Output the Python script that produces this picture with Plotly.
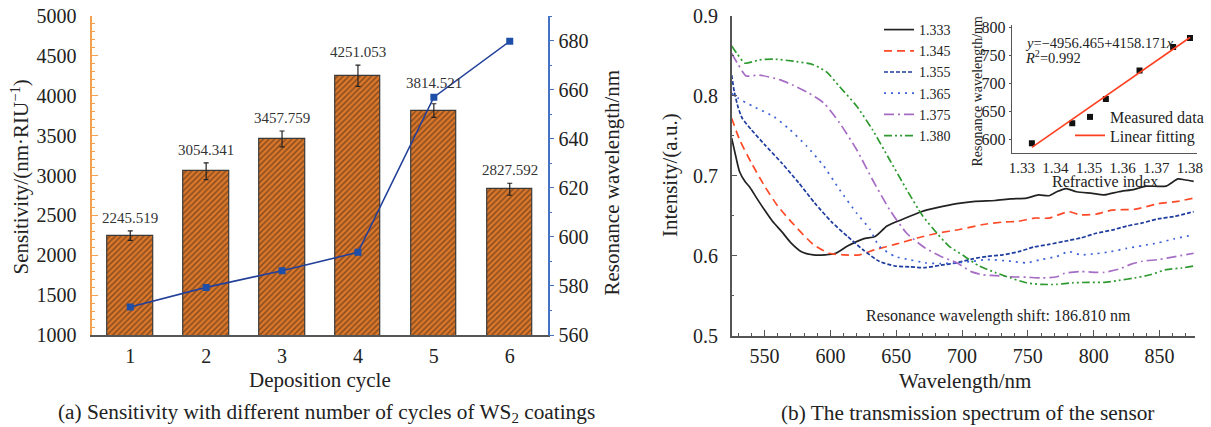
import plotly.graph_objects as go

W, H = 1211, 427
FONT = "Liberation Serif"

# ---------------- data: panel (a) ----------------
cycles = [1, 2, 3, 4, 5, 6]
sensitivity = [2245.519, 3054.341, 3457.759, 4251.053, 3814.521, 2827.592]
sens_err = [60, 105, 100, 133, 85, 75]
res_wl = [571.4, 579.4, 586.2, 593.7, 656.9, 679.7]

# ---------------- data: panel (b) spectra ----------------
ri_labels = ["1.333", "1.345", "1.355", "1.365", "1.375", "1.380"]

wl_1333 = [525, 528, 531, 535, 539, 544, 550, 556, 563, 570, 578, 587, 596, 604, 613, 625, 634,
           643, 654, 669, 681, 696, 710, 725, 737, 749, 758, 766, 772, 779, 787, 799, 808, 819,
           831, 840, 855, 864, 869, 876]
I_1333 = [0.747, 0.725, 0.705, 0.693, 0.685, 0.672, 0.657, 0.643, 0.630, 0.616, 0.605, 0.601,
          0.601, 0.603, 0.612, 0.621, 0.624, 0.637, 0.645, 0.655, 0.660, 0.665, 0.668, 0.669,
          0.671, 0.672, 0.676, 0.675, 0.680, 0.684, 0.680, 0.678, 0.676, 0.680, 0.683, 0.687,
          0.687, 0.696, 0.695, 0.693]

wl_1345 = [525, 531, 540, 550, 560, 571, 587, 599, 610, 622, 634, 649, 666, 681, 699, 716, 731,
           743, 755, 766, 781, 790, 802, 814, 831, 849, 864, 876]
I_1345 = [0.772, 0.745, 0.716, 0.687, 0.662, 0.641, 0.614, 0.603, 0.601, 0.601, 0.6075, 0.614,
          0.622, 0.628, 0.633, 0.639, 0.642, 0.643, 0.647, 0.647, 0.655, 0.651, 0.652, 0.657,
          0.658, 0.665, 0.668, 0.672]

wl_1355 = [525, 527, 530, 533, 540, 550, 563, 576, 588, 601, 613, 625, 637, 649, 660, 672, 684,
           696, 708, 719, 731, 743, 755, 766, 778, 790, 802, 814, 825, 837, 849, 861, 876]
I_1355 = [0.826, 0.805, 0.785, 0.772, 0.7575, 0.739, 0.716, 0.691, 0.666, 0.642, 0.624, 0.607,
          0.593, 0.587, 0.586, 0.585, 0.588, 0.591, 0.596, 0.599, 0.601, 0.605, 0.611, 0.614,
          0.618, 0.622, 0.628, 0.632, 0.637, 0.641, 0.646, 0.649, 0.655]

wl_1365 = [525, 530, 541, 557, 569, 582, 595, 607, 620, 630, 637, 649, 660, 672, 684, 696, 708,
           719, 737, 749, 760, 772, 781, 790, 802, 813, 825, 837, 849, 861, 876]
I_1365 = [0.803, 0.797, 0.787, 0.774, 0.758, 0.737, 0.712, 0.6825, 0.653, 0.633, 0.612, 0.599,
          0.595, 0.591, 0.590, 0.591, 0.593, 0.595, 0.593, 0.591, 0.595, 0.599, 0.605, 0.601,
          0.6025, 0.605, 0.609, 0.6125, 0.616, 0.621, 0.626]

wl_1375 = [525, 530, 536, 546, 562, 572, 582, 595, 607, 620, 632, 645, 658, 672, 684, 696, 707,
           716, 725, 737, 749, 760, 772, 778, 790, 802, 808, 819, 828, 837, 849, 861, 876]
I_1375 = [0.853, 0.839, 0.825, 0.826, 0.820, 0.813, 0.805, 0.791, 0.766, 0.7325, 0.695, 0.6575,
          0.628, 0.6095, 0.599, 0.591, 0.580, 0.576, 0.575, 0.5735, 0.573, 0.572, 0.5735, 0.578,
          0.580, 0.579, 0.579, 0.583, 0.589, 0.593, 0.595, 0.5985, 0.603]

wl_1380 = [525, 529, 535, 546, 557, 574, 587, 597, 607, 620, 632, 645, 658, 670, 681, 690, 702,
           713, 725, 737, 749, 760, 772, 784, 796, 808, 819, 831, 843, 855, 867, 876]
I_1380 = [0.8625, 0.853, 0.841, 0.845, 0.846, 0.843, 0.839, 0.830, 0.8115, 0.787, 0.7575, 0.720,
          0.6825, 0.650, 0.628, 0.612, 0.599, 0.587, 0.579, 0.572, 0.566, 0.564, 0.564, 0.566,
          0.5665, 0.5665, 0.569, 0.572, 0.576, 0.5825, 0.5845, 0.587]

# ---------------- data: inset ----------------
inset_ri = [1.333, 1.345, 1.355, 1.365, 1.375, 1.380]
inset_wl = [594.0, 629.5, 672.5, 723.0, 765.0, 780.8]
fit_intercept = -4956.465
fit_slope = 4158.171

# ---------------- styles ----------------
spec_colors = ["#222222", "#FF4A28", "#1E3C9E", "#3D62D6", "#A66DC4", "#2E9A30"]
spec_dash = ["solid", "8px,5px", "4px,2px", "2px,5px", "10px,4px,2px,4px", "8px,3px,2px,3px,2px,3px"]
ORANGE = "#F5A04E"
BLUE = "#4472C4"
AX = "#555555"


def fx(p):
    return p / W


def fy(p):
    return 1 - p / H


fig = go.Figure()

# bars
fig.add_trace(go.Bar(
    x=cycles, y=sensitivity, width=0.6, xaxis="x", yaxis="y", showlegend=False,
    marker=dict(color="#DA772B", line=dict(color="#3a3a3a", width=1.2),
                pattern=dict(shape="/", fgcolor="#3b2412", size=4, solidity=0.38)),
    error_y=dict(type="data", array=sens_err, color="#222222", thickness=1.2, width=2.5),
))
# resonance wavelength line
fig.add_trace(go.Scatter(
    x=cycles, y=res_wl, xaxis="x", yaxis="y2", mode="lines+markers", showlegend=False,
    line=dict(color="#22409A", width=1.6),
    marker=dict(symbol="square", size=7, color="#1E4FA8"),
))

# spectra
spectra = [(wl_1333, I_1333), (wl_1345, I_1345), (wl_1355, I_1355),
           (wl_1365, I_1365), (wl_1375, I_1375), (wl_1380, I_1380)]
for (wl, inten), name, col, dash in zip(spectra, ri_labels, spec_colors, spec_dash):
    fig.add_trace(go.Scatter(
        x=wl, y=inten, xaxis="x2", yaxis="y3", mode="lines", name=name,
        line=dict(color=col, width=1.7, dash=dash, shape="spline", smoothing=0.6),
        legend="legend",
    ))

# inset
fig.add_trace(go.Scatter(
    x=inset_ri, y=inset_wl, xaxis="x4", yaxis="y4", mode="markers", name="Measured data",
    marker=dict(symbol="square", size=6, color="#111111"), legend="legend2",
))
fit_x = [inset_ri[0], inset_ri[-1]]
fit_y = [fit_intercept + fit_slope * v for v in fit_x]
fig.add_trace(go.Scatter(
    x=fit_x, y=fit_y, xaxis="x4", yaxis="y4", mode="lines", name="Linear fitting",
    line=dict(color="#FF4020", width=1.6), legend="legend3",
))

tickfont = dict(family=FONT, size=20, color="#222")
noleg = dict(bgcolor="rgba(0,0,0,0)", tracegroupgap=0, xanchor="left", yanchor="top")

fig.update_layout(
    width=W, height=H, margin=dict(l=0, r=0, t=0, b=0, autoexpand=False),
    paper_bgcolor="white", plot_bgcolor="rgba(0,0,0,0)",
    font=dict(family=FONT, color="#222"),
    bargap=0,
    xaxis=dict(domain=[fx(92.3), fx(547.7)], range=[0.5, 6.5], anchor="y", automargin=False,
               tickvals=cycles, ticks="", showline=True, linecolor=AX, linewidth=1.5,
               showgrid=False, zeroline=False, tickfont=tickfont, ticklabelstandoff=2),
    xaxis3=dict(domain=[fx(92.3), fx(547.7)], range=[0.5, 6.5], anchor="y", overlaying="x",
                automargin=False,
                side="top", showticklabels=False, showline=True, linecolor=AX, linewidth=1.5,
                dtick=1, tick0=1, ticks="inside", ticklen=6, tickcolor=AX,
                minor=dict(dtick=0.5, ticks="inside", ticklen=3, tickcolor=AX),
                showgrid=False, zeroline=False),
    yaxis=dict(domain=[fy(335), fy(16)], range=[1000, 5000], anchor="x", dtick=500, automargin=False,
               ticks="inside", ticklen=6, tickcolor=ORANGE, showline=True, linecolor=ORANGE,
               linewidth=1.5, minor=dict(dtick=100, ticks="inside", ticklen=3, tickcolor=ORANGE),
               showgrid=False, zeroline=False, tickfont=tickfont, ticklabelstandoff=10),
    yaxis2=dict(domain=[fy(335), fy(16)], range=[560, 690], anchor="x", overlaying="y",
                automargin=False,
                side="right", dtick=20, tick0=560, ticks="outside", ticklen=5, tickcolor=BLUE,
                showline=True, linecolor=BLUE, linewidth=1.5,
                minor=dict(dtick=10, ticks="outside", ticklen=3, tickcolor=BLUE),
                showgrid=False, zeroline=False, tickfont=tickfont, ticklabelstandoff=0),
    xaxis2=dict(domain=[fx(731.7), fx(1195)], range=[525, 877], anchor="y3", dtick=50, tick0=550,
                automargin=False,
                ticks="inside", ticklen=6, tickcolor=AX, showline=True, linecolor=AX, linewidth=1.5,
                minor=dict(dtick=10, ticks="inside", ticklen=3, tickcolor=AX),
                showgrid=False, zeroline=False, tickfont=tickfont, ticklabelstandoff=2),
    yaxis3=dict(domain=[fy(335.5), fy(16)], range=[0.5, 0.9], anchor="x2", dtick=0.1,
                automargin=False,
                tickformat=".1f", ticks="inside", ticklen=6, tickcolor=AX, showline=True,
                linecolor=AX, linewidth=1.5,
                minor=dict(dtick=0.05, ticks="inside", ticklen=3, tickcolor=AX),
                showgrid=False, zeroline=False, tickfont=tickfont, ticklabelstandoff=8),
    xaxis4=dict(domain=[fx(1011.7), fx(1196.7)], range=[1.327, 1.382], anchor="y4", dtick=0.01,
                automargin=False,
                tick0=1.33, tickformat=".2f", ticks="", showline=True, linecolor=AX, linewidth=1.2,
                showgrid=False, zeroline=False, tickfont=dict(family=FONT, size=15, color="#222"),
                ticklabelstandoff=1),
    yaxis4=dict(domain=[fy(153.3), fy(25)], range=[576, 804], anchor="x4", dtick=50, tick0=600,
                automargin=False,
                ticks="outside", ticklen=2, tickcolor=AX, showline=True, linecolor=AX,
                linewidth=1.2, showgrid=False, zeroline=False,
                tickfont=dict(family=FONT, size=16, color="#222"), ticklabelstandoff=0),
    legend=dict(x=fx(879), y=fy(14), font=dict(family=FONT, size=14, color="#222"), **noleg),
    legend2=dict(x=fx(1070), y=fy(100), font=dict(family=FONT, size=16, color="#222"), **noleg),
    legend3=dict(x=fx(1070), y=fy(118.5), font=dict(family=FONT, size=16, color="#222"), **noleg),
)

ann = []
# bar value labels
label_lift = [3, 3, 3, 3, 11, 3]
for c, v, e, lift in zip(cycles, sensitivity, sens_err, label_lift):
    ann.append(dict(x=c, y=v + e, xref="x", yref="y", text=f"{v:.3f}", showarrow=False,
                    yanchor="bottom", yshift=lift, font=dict(family=FONT, size=15, color="#333")))

title_font = dict(family=FONT, size=21, color="#222")
cap_font = dict(family=FONT, size=21.3, color="#222")
eq_font = dict(family=FONT, size=14.5, color="#222")
ann += [
    dict(x=fx(19.5), y=fy(177), xref="paper", yref="paper", text="Sensitivity/(nm·RIU<sup>−1</sup>)",
         textangle=-90, showarrow=False, font=title_font, xanchor="center", yanchor="middle"),
    dict(x=fx(611.5), y=fy(183), xref="paper", yref="paper", text="Resonance wavelength/nm",
         textangle=-90, showarrow=False, font=title_font, xanchor="center", yanchor="middle"),
    dict(x=fx(320), y=fy(380), xref="paper", yref="paper", text="Deposition cycle",
         showarrow=False, font=title_font, xanchor="center", yanchor="middle"),
    dict(x=fx(326), y=fy(413), xref="paper", yref="paper",
         text="(a) Sensitivity with different number of cycles of WS<sub>2</sub> coatings",
         showarrow=False, font=cap_font, xanchor="center", yanchor="middle"),
    dict(x=fx(670), y=fy(175), xref="paper", yref="paper", text="Intensity/(a.u.)",
         textangle=-90, showarrow=False, font=title_font, xanchor="center", yanchor="middle"),
    dict(x=fx(965), y=fy(381), xref="paper", yref="paper", text="Wavelength/nm",
         showarrow=False, font=title_font, xanchor="center", yanchor="middle"),
    dict(x=fx(967), y=fy(413), xref="paper", yref="paper",
         text="(b) The transmission spectrum of the sensor",
         showarrow=False, font=cap_font, xanchor="center", yanchor="middle"),
    dict(x=fx(998), y=fy(315.7), xref="paper", yref="paper",
         text="Resonance wavelength shift: 186.810 nm",
         showarrow=False, font=dict(family=FONT, size=16, color="#222"), xanchor="center", yanchor="middle"),
    dict(x=fx(976.5), y=fy(91), xref="paper", yref="paper", text="Resonance wavelength/nm",
         textangle=-90, showarrow=False, font=dict(family=FONT, size=14, color="#222"),
         xanchor="center", yanchor="middle"),
    dict(x=fx(1105), y=fy(181.5), xref="paper", yref="paper", text="Refractive index",
         showarrow=False, font=dict(family=FONT, size=16, color="#222"), xanchor="center", yanchor="middle"),
    dict(x=fx(1023), y=fy(42.5), xref="paper", yref="paper",
         text="<i>y</i>=−4956.465+4158.171<i>x</i>",
         showarrow=False, font=eq_font, xanchor="left", yanchor="middle"),
    dict(x=fx(1023), y=fy(57), xref="paper", yref="paper", text="<i>R</i><sup>2</sup>=0.992",
         showarrow=False, font=eq_font, xanchor="left", yanchor="middle"),
]
fig.update_layout(annotations=ann)

fig.write_html("out.html", config={"displayModeBar": False},
               post_script="document.body.style.margin='0px';document.body.style.overflow='hidden';")
